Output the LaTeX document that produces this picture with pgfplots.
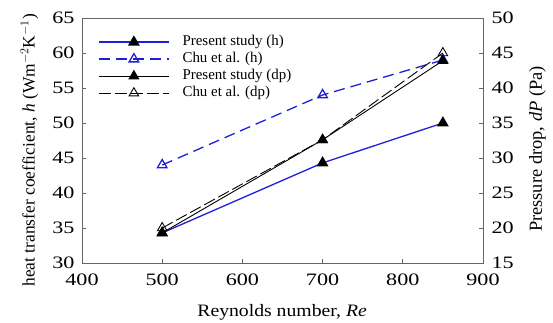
\documentclass[border=0pt]{standalone}
\usepackage{fontspec}
\setmainfont{Liberation Serif}
\newfontfamily\tickfont{Liberation Serif}[FakeStretch=1.27]
\newfontfamily\labelfont{Liberation Serif}[FakeStretch=1.13]
\usepackage{pgfplots}
\pgfplotsset{compat=1.18}
\definecolor{myblue}{rgb}{0.12,0.12,0.85}
\definecolor{framegray}{rgb}{0.4,0.4,0.4}
\begin{document}
\begin{tikzpicture}
\pgfplotsset{every axis/.append style={
  scale only axis, width=401bp, height=245bp,
  xmin=400, xmax=900,
  /pgf/number format/assume math mode=true,
  tick align=inside, major tick length=4bp,
  tick style={framegray, line width=0.6bp},
  axis line style={framegray, line width=0.8bp},
  ticklabel style={font=\tickfont\fontsize{17.5}{20}\selectfont},
}}
\begin{axis}[
  ymin=30, ymax=65,
  xtick={400,500,600,700,800,900},
  ytick={30,35,40,45,50,55,60,65},
  xtick pos=bottom, ytick pos=left,
  xticklabel style={yshift=-7bp},
  yticklabel style={xshift=-4bp},
  xlabel={Reynolds number, \textit{Re}},
  xlabel style={font=\labelfont\fontsize{17.5}{20}\selectfont, at={(axis description cs:0.499,-0.2)}, anchor=center},
  ylabel={heat transfer coefficient, \textit{h} (Wm$^{-2}$K$^{-1}$)},
  ylabel style={font=\fontsize{17.5}{20}\selectfont, at={(axis description cs:-0.131,0.46)}, anchor=center, rotate=0},
]
\addplot[myblue, line width=1.3bp, mark=triangle*, mark size=5.5bp, mark options={solid, fill=black, draw=black}]
  coordinates {(500,34.3) (700,44.3) (850,50.0)};
\addplot[myblue, line width=1.3bp, dash pattern=on 11bp off 6bp, mark=triangle, mark size=5.5bp, mark options={solid, fill=white, draw=myblue}]
  coordinates {(500,44.0) (700,54.0) (850,59.0)};
\end{axis}
\begin{axis}[
  ymin=15, ymax=50,
  ytick={15,20,25,30,35,40,45,50},
  axis x line=none, axis y line*=right,
  yticklabel style={xshift=5bp},
  ylabel={Pressure drop, \textit{dP} (Pa)},
  ylabel style={font=\fontsize{18.5}{20}\selectfont, at={(axis description cs:1.136,0.465)}, anchor=center, rotate=0},
  legend image code/.code={\draw[mark repeat=2, mark phase=2, #1] plot coordinates {(0bp,0bp) (35bp,0bp) (70bp,0bp)};},
  legend style={draw=none, fill=none, inner sep=0pt, at={(axis description cs:0.04,0.937)}, anchor=north west,
    font=\fontsize{15}{17}\selectfont, row sep=0pt,
    nodes={inner sep=1bp, text height=11bp, text depth=4bp},
    /tikz/every odd column/.append style={column sep=12bp}},
  legend cell align=left,
]
\addlegendimage{myblue, line width=1.3bp, mark=triangle*, mark size=5.5bp, mark options={solid, fill=black, draw=black}}
\addlegendentry{Present study (h)}
\addlegendimage{myblue, line width=1.3bp, dash pattern=on 11bp off 6bp, mark=triangle, mark size=5.5bp, mark options={solid, fill=white, draw=myblue}}
\addlegendentry{Chu et al. (h)}
\addplot[black, line width=0.9bp, mark=triangle*, mark size=5.5bp, mark options={solid, fill=black}]
  coordinates {(500,19.3) (700,32.6) (850,43.9)};
\addlegendentry{Present study (dp)}
\addplot[black, line width=0.9bp, dash pattern=on 12bp off 4bp, mark=triangle, mark size=5.5bp, mark options={solid, fill=white, draw=black}]
  coordinates {(500,20.0) (700,32.6) (850,45.0)};
\addlegendentry{Chu et al. (dp)}
\end{axis}
\pgfresetboundingbox
\path[use as bounding box] (-82bp,-60bp) rectangle (471bp,263bp);
\end{tikzpicture}
\end{document}
